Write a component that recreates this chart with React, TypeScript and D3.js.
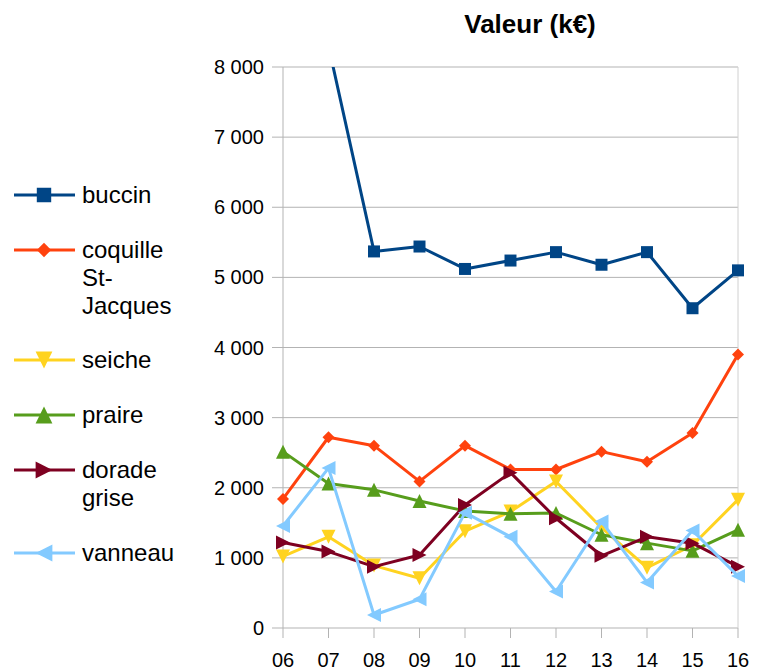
import React from "react";
import * as d3 from "d3";

const years = ["06", "07", "08", "09", "10", "11", "12", "13", "14", "15", "16"];
const buccin = [10500, 8300, 5370, 5440, 5120, 5240, 5360, 5180, 5360, 4560, 5100];
const coquille = [1840, 2720, 2600, 2090, 2600, 2260, 2260, 2515, 2370, 2780, 3900];
const seiche = [1020, 1300, 890, 710, 1380, 1660, 2090, 1430, 860, 1180, 1830];
const praire = [2515, 2060, 1970, 1810, 1670, 1630, 1640, 1330, 1210, 1100, 1400];
const dorade = [1220, 1090, 875, 1040, 1755, 2215, 1565, 1030, 1300, 1210, 875];
const vanneau = [1455, 2280, 185, 410, 1645, 1300, 520, 1520, 650, 1390, 740];
const yTicks = [0, 1000, 2000, 3000, 4000, 5000, 6000, 7000, 8000];

const series = [
  { name: ["buccin"], values: buccin, color: "#004586", marker: "square" },
  { name: ["coquille", "St-", "Jacques"], values: coquille, color: "#ff420e", marker: "diamond" },
  { name: ["seiche"], values: seiche, color: "#ffd320", marker: "down" },
  { name: ["praire"], values: praire, color: "#579d1c", marker: "up" },
  { name: ["dorade", "grise"], values: dorade, color: "#7e0021", marker: "right" },
  { name: ["vanneau"], values: vanneau, color: "#83caff", marker: "left" },
];

const legendY = [195, 250, 360, 415, 470, 553];

function markerPath(type: string, x: number, y: number, k = 1) {
  const s = 6 * k, t = 7 * k;
  switch (type) {
    case "square":
      return `M${x - s},${y - s}h${2 * s}v${2 * s}h${-2 * s}Z`;
    case "diamond":
      return `M${x},${y - s}L${x + s},${y}L${x},${y + s}L${x - s},${y}Z`;
    case "down":
      return `M${x - t},${y - t}L${x + t},${y - t}L${x},${y + t}Z`;
    case "up":
      return `M${x - t},${y + t}L${x + t},${y + t}L${x},${y - t}Z`;
    case "right":
      return `M${x - t},${y - t}L${x + t},${y}L${x - t},${y + t}Z`;
    default:
      return `M${x + t},${y - t}L${x - t},${y}L${x + t},${y + t}Z`;
  }
}

export default function App() {
  const W = 764, H = 671;
  const margin = { left: 283, right: 26, top: 67, bottom: 43 };
  const x = d3.scalePoint().domain(years).range([margin.left, W - margin.right]);
  const y = d3.scaleLinear().domain([0, 8000]).range([H - margin.bottom, margin.top]);
  const line = d3.line<number>().x((_, i) => x(years[i]) as number).y(d => y(d));
  const font = "'Liberation Sans', Arial, sans-serif";
  const x0 = margin.left, x1 = W - margin.right, y0 = H - margin.bottom, y1 = margin.top;

  return (
    <div style={{ position: "absolute", left: 0, top: 0 }}>
      <svg width={W} height={H} style={{ display: "block", fontFamily: font }}>
        <defs>
          <clipPath id="plot">
            <rect x={x0 - 10} y={y1} width={x1 - x0 + 20} height={y0 - y1 + 10} />
          </clipPath>
        </defs>
        <text x={530} y={33} textAnchor="middle" fontSize={26} fontWeight="bold" fill="#000">
          Valeur (k€)
        </text>
        {yTicks.map(d => (
          <g key={d}>
            <line x1={x0 - 11} x2={x1} y1={y(d)} y2={y(d)} stroke="#b3b3b3" strokeWidth={1} />
            <text x={264} y={y(d)} dy="0.35em" textAnchor="end" fontSize={20} fill="#000">
              {d3.format(",")(d).replace(",", " ")}
            </text>
          </g>
        ))}
        {years.map(d => (
          <g key={d}>
            <line x1={x(d)} x2={x(d)} y1={y0} y2={y0 + 10} stroke="#b3b3b3" strokeWidth={1} />
            <text x={x(d)} y={y0 + 39} textAnchor="middle" fontSize={20} fill="#000">
              {d}
            </text>
          </g>
        ))}
        <line x1={x0} x2={x0} y1={y1} y2={y0} stroke="#b3b3b3" strokeWidth={1} />
        <line x1={x1} x2={x1} y1={y1} y2={y0} stroke="#d0d0d0" strokeWidth={1} />
        <g clipPath="url(#plot)">
          {series.map(s => (
            <g key={s.name[0]}>
              <path d={line(s.values) || ""} fill="none" stroke={s.color} strokeWidth={3} strokeLinejoin="round" />
              {s.values.map((v, i) => (
                <path key={i} d={markerPath(s.marker, x(years[i]) as number, y(v))} fill={s.color} />
              ))}
            </g>
          ))}
        </g>
        {series.map((s, k) => (
          <g key={s.name[0]}>
            <line x1={14} x2={75} y1={legendY[k]} y2={legendY[k]} stroke={s.color} strokeWidth={3} />
            <path d={markerPath(s.marker, 44, legendY[k], 1.2)} fill={s.color} />
            {s.name.map((n, j) => (
              <text key={j} x={82} y={legendY[k] + j * 28} dy="0.35em" fontSize={24} fill="#000">
                {n}
              </text>
            ))}
          </g>
        ))}
      </svg>
    </div>
  );
}
